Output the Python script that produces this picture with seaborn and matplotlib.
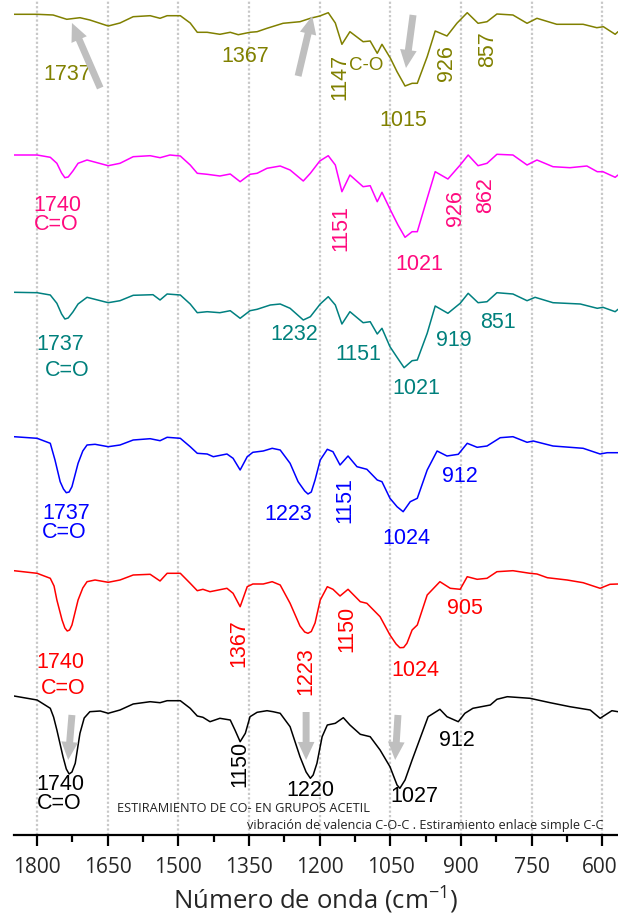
import matplotlib
matplotlib.use("Agg")
import matplotlib.pyplot as plt
import matplotlib.transforms as mtransforms
from matplotlib.ticker import MultipleLocator
import pandas as pd
import seaborn as sns

# ---------------- FTIR spectra (stacked, arbitrary transmittance units) ----------------
wn_olive = [1849, 1800, 1766, 1737, 1709, 1688, 1649, 1624, 1596, 1560, 1539, 1524, 1496,
            1475, 1460, 1439, 1412, 1390, 1373, 1348, 1333, 1312, 1278, 1242, 1220, 1200,
            1182, 1167, 1153, 1136, 1108, 1093, 1078, 1068, 1050, 1036, 1019, 1004, 993,
            972, 955, 930, 909, 887, 864, 845, 824, 790, 760, 739, 697, 641, 612, 598, 573, 567]
t_olive = [820.7, 820.7, 820.0, 815.7, 817.3, 815.0, 809.0, 812.0, 818.3, 819.3, 816.7, 819.3, 819.3,
           812.0, 802.7, 802.7, 800.7, 802.7, 800.3, 802.7, 803.3, 806.7, 811.7, 813.3, 816.7, 819.0,
           822.3, 812.0, 790.7, 803.3, 793.3, 794.0, 781.7, 790.7, 776.7, 763.3, 749.0, 751.7, 751.7,
           778.3, 804.0, 799.0, 811.7, 822.3, 811.7, 813.3, 821.0, 820.0, 811.7, 816.7, 810.7, 810.7,
           807.3, 808.3, 800.7, 803.3]

wn_magenta = [1849, 1800, 1772, 1758, 1748, 1741, 1734, 1724, 1713, 1694, 1649, 1624, 1596, 1560, 1539, 1518,
              1496, 1475, 1460, 1439, 1412, 1390, 1369, 1348, 1333, 1312, 1284, 1263, 1235, 1220,
              1200, 1182, 1167, 1153, 1136, 1108, 1093, 1078, 1068, 1050, 1034, 1019, 1004, 993,
              972, 955, 928, 902, 885, 864, 845, 824, 790, 760, 739, 705, 669, 633, 611, 599, 573, 567]
t_magenta = [680.0, 680.0, 677.7, 671.7, 662.0, 657.3, 658.0, 664.0, 671.7, 675.0, 669.3, 671.7, 678.3, 679.3, 677.3, 680.0,
             679.0, 670.0, 661.7, 660.7, 659.0, 661.0, 653.3, 660.7, 661.7, 666.7, 669.0, 665.0, 654.0, 661.7,
             674.0, 679.3, 670.0, 643.3, 660.0, 648.3, 649.3, 633.3, 642.7, 625.0, 610.0, 597.7, 603.3, 603.3,
             636.7, 663.3, 656.0, 670.0, 680.0, 669.3, 671.7, 680.7, 680.0, 670.0, 675.0, 668.3, 667.3, 669.0,
             663.3, 663.3, 657.7, 660.0]

wn_teal = [1849, 1800, 1772, 1758, 1748, 1741, 1734, 1724, 1713, 1694, 1649, 1624, 1596, 1554, 1539, 1524, 1496,
           1475, 1460, 1439, 1412, 1390, 1369, 1348, 1333, 1305, 1284, 1263, 1235, 1220, 1199, 1182,
           1167, 1153, 1136, 1108, 1093, 1078, 1068, 1051, 1036, 1021, 1004, 993, 972, 955, 928, 902,
           885, 864, 845, 824, 790, 760, 743, 705, 647, 611, 599, 573, 567]
t_teal = [542.7, 542.3, 540.0, 531.7, 521.0, 516.0, 517.0, 523.0, 531.0, 537.7, 532.3, 534.3, 539.7, 540.3, 535.0, 541.0, 540.0,
          531.0, 522.3, 523.3, 522.3, 524.3, 516.7, 524.3, 525.7, 530.0, 531.0, 526.7, 515.0, 518.3, 531.0, 538.3,
          530.0, 511.0, 523.3, 512.3, 513.3, 501.0, 506.7, 488.3, 477.7, 467.3, 474.3, 475.0, 501.7, 529.0, 521.7, 531.7,
          541.7, 532.3, 533.3, 542.3, 541.0, 534.3, 537.7, 532.3, 531.0, 526.7, 527.7, 523.3, 525.7]

wn_blue = [1849, 1800, 1772, 1762, 1751, 1744, 1738, 1732, 1726, 1713, 1703, 1694, 1677, 1649, 1624, 1596, 1560, 1539,
           1524, 1496, 1475, 1460, 1439, 1426, 1397, 1384, 1369, 1354, 1342, 1320, 1301, 1284, 1263,
           1246, 1232, 1225, 1218, 1210, 1199, 1184, 1172, 1157, 1140, 1121, 1100, 1078, 1068, 1051, 1036,
           1023, 1008, 993, 972, 951, 930, 906, 887, 866, 845, 817, 790, 760, 747, 705, 641, 605, 590, 567]
t_blue = [398.3, 396.7, 391.7, 375.0, 353.3, 346.0, 342.3, 343.0, 348.3, 371.7, 384.0, 390.0, 390.7, 388.3, 390.0, 395.0, 396.3, 394.3,
          397.7, 396.7, 388.3, 381.7, 381.0, 378.3, 381.0, 376.7, 365.0, 378.3, 382.7, 384.0, 386.7, 385.0, 371.7,
          353.3, 344.0, 341.0, 343.0, 355.0, 375.0, 385.7, 383.3, 370.0, 379.0, 368.3, 365.7, 355.0, 353.3, 336.7, 328.3,
          323.3, 333.3, 336.7, 365.0, 384.0, 379.0, 380.7, 391.7, 387.7, 389.0, 397.3, 398.3, 392.7, 394.0, 389.0,
          386.7, 381.0, 382.3, 382.3]

wn_red = [1849, 1800, 1772, 1764, 1758, 1747, 1741, 1736, 1731, 1726, 1713, 1703, 1694, 1677, 1649, 1624, 1596, 1560, 1539,
          1524, 1496, 1475, 1460, 1448, 1433, 1397, 1384, 1369, 1354, 1342, 1320, 1301, 1284, 1263,
          1242, 1232, 1225, 1218, 1210, 1199, 1184, 1172, 1157, 1140, 1114, 1100, 1072, 1051, 1038, 1030, 1022, 1015, 1004,
          993, 972, 945, 923, 902, 887, 866, 845, 824, 790, 754, 739, 717, 675, 641, 605, 584, 567]
t_red = [264.3, 261.7, 256.7, 249.0, 235.0, 215.0, 207.0, 204.0, 205.0, 210.0, 235.0, 247.0, 253.3, 255.0, 252.7, 255.0, 260.0, 260.7, 254.0,
         261.7, 261.7, 251.7, 244.3, 245.7, 243.3, 246.7, 241.7, 228.3, 248.3, 251.0, 251.0, 253.3, 250.0, 231.7,
         209.0, 203.0, 201.7, 203.5, 212.0, 235.0, 248.3, 245.7, 239.0, 245.7, 233.3, 231.7, 218.3, 200.0, 191.0, 187.3, 187.5, 191.7, 205.0,
         210.0, 240.0, 253.3, 246.7, 245.7, 258.3, 255.7, 256.7, 263.3, 264.3, 261.7, 261.0, 257.3, 255.0, 252.3,
         246.7, 250.7, 251.0]

wn_black = [1849, 1800, 1772, 1765, 1758, 1745, 1738, 1732, 1726, 1719, 1709, 1700, 1688, 1666, 1649, 1624, 1596, 1560, 1539,
            1524, 1496, 1475, 1460, 1448, 1433, 1412, 1390, 1380, 1369, 1358, 1348, 1333, 1312, 1299,
            1284, 1263, 1242, 1229, 1220, 1214, 1206, 1195, 1184, 1167, 1150, 1136, 1114, 1093, 1072, 1051,
            1036, 1030, 1019, 1004, 987, 970, 945, 930, 906, 892, 875, 838, 824, 802, 754, 711, 669,
            626, 605, 580, 567]
t_black = [139.0, 135.0, 126.7, 118.0, 105.0, 78.3, 66.0, 61.0, 63.0, 71.7, 101.7, 117.0, 123.3, 124.0, 121.7, 125.0, 131.0, 133.3, 132.3,
           134.3, 134.3, 126.7, 119.0, 117.7, 113.3, 116.7, 115.0, 105.0, 93.3, 101.7, 118.3, 122.7, 124.3, 123.3,
           121.7, 108.3, 78.3, 63.0, 56.7, 60.0, 71.7, 98.3, 110.0, 111.7, 117.3, 110.0, 100.7, 98.3, 85.0, 68.3,
           50.0, 46.7, 55.0, 75.0, 96.7, 118.3, 125.7, 118.3, 113.3, 121.7, 126.7, 130.0, 135.7, 138.3, 136.7,
           132.3, 128.3, 125.0, 116.7, 124.3, 123.3]

spectra = [
    (wn_olive, t_olive, "#808000"),
    (wn_magenta, t_magenta, "#FF00FF"),
    (wn_teal, t_teal, "#008080"),
    (wn_blue, t_blue, "#0000FF"),
    (wn_red, t_red, "#FF0000"),
    (wn_black, t_black, "#000000"),
]

# ---------------- band assignments: (wavenumber pos, level, text, rotation) ----------------
labels_olive = [(1736, 761, "1737", 0), (1359, 779, "1367", 0), (1157, 758, "1147", 90),
                (1102, 769, "C-O", 0), (1023, 714, "1015", 0), (930, 772, "926", 90), (843, 786, "857", 90)]
labels_magenta = [(1756, 620, "1740\nC=O", 0), (1155, 607, "1151", 90),
                  (989, 570, "1021", 0), (911, 627, "926", 90), (849, 640, "862", 90)]
labels_teal = [(1751, 490, "1737", 0), (1736, 465, "C=O", 0), (1255, 500, "1232", 0),
               (1119, 480, "1151", 0), (996, 446, "1021", 0), (915, 494, "919", 0), (822, 513, "851", 0)]
labels_blue = [(1739, 312, "1737\nC=O", 0), (1267, 320, "1223", 0),
               (1146, 335, "1151", 90), (1017, 296, "1024", 0), (902, 359, "912", 0)]
labels_red = [(1751, 172, "1740", 0), (1745, 147, "C=O", 0), (1371, 192, "1367", 90),
              (1229, 164, "1223", 90), (1142, 206, "1150", 90), (998, 165, "1024", 0), (892, 226, "905", 0)]
labels_black = [(1750, 41, "1740\nC=O", 0), (1369, 71, "1150", 90),
                (1219, 44, "1220", 0), (1000, 38, "1027", 0), (909, 94, "912", 0)]

label_sets = [
    (labels_olive, "#808000"),
    (labels_magenta, "#FF0A7E"),
    (labels_teal, "#00807C"),
    (labels_blue, "#0000FF"),
    (labels_red, "#FF0000"),
    (labels_black, "#000000"),
]

# highlighting arrows: (tail wn, tail level, tip wn, tip level)
arrows = [(1666, 747, 1726, 812), (1246, 759, 1216, 819), (1002, 820, 1017, 767),
          (1726, 120, 1734, 75), (1229, 123, 1229, 75), (1034, 120, 1040, 75)]

xticks = [1800, 1650, 1500, 1350, 1200, 1050, 900, 750, 600]

# ---------------- figure ----------------
sns.set_theme(style="white")
plt.rcParams["font.family"] = ["Liberation Sans", "DejaVu Sans"]
plt.rcParams["mathtext.fontset"] = "custom"
plt.rcParams["mathtext.rm"] = "Open Sans"
plt.rcParams["mathtext.it"] = "Open Sans"

fig = plt.figure(figsize=(6.18, 9.16), dpi=100)
ax = fig.add_axes([14 / 618, 81 / 916, 604 / 618, 835 / 916])

for wn, t, col in spectra:
    df = pd.DataFrame({"wn": wn, "t": t})
    sns.lineplot(data=df, x="wn", y="t", color=col, linewidth=1.1, ax=ax,
                 estimator=None, sort=False)

for labs, col in label_sets:
    for x, y, s, rot in labs:
        ax.text(x, y, s, color=col, fontsize=13.5 if s == "C-O" else 15.5,
                rotation=rot, ha="center", va="center", linespacing=0.9,
                multialignment="left")

for x0, y0, x1, y1 in arrows:
    ax.annotate("", xy=(x1, y1), xytext=(x0, y0),
                arrowprops=dict(facecolor="#BFBFBF", edgecolor="none",
                                width=5, headwidth=12, headlength=13, shrink=0))

ax.text(1630, 27, "ESTIRAMIENTO DE CO- EN GRUPOS ACETIL", fontsize=9.2,
        family="Open Sans", color="#222222", ha="left", va="center")
ax.text(1354, 10, "vibración de valencia C-O-C . Estiramiento enlace simple C-C", fontsize=9.2,
        family="Open Sans", color="#222222", ha="left", va="center", clip_on=True)

ax.set_xlim(1849, 567)
ax.set_ylim(0, 835)
ax.set_xticks(xticks)
ax.xaxis.set_minor_locator(MultipleLocator(75))
ax.set_yticks([])
ax.set_ylabel("")
ax.grid(axis="x", which="major", linestyle=(0, (1, 1)), color="#C8C8C8", linewidth=1.6)
for side in ["left", "top", "right"]:
    ax.spines[side].set_visible(False)
ax.spines["bottom"].set_linewidth(1.6)
ax.spines["bottom"].set_color("black")
ax.tick_params(axis="x", which="major", direction="out", length=8, width=1.6,
               bottom=True, color="black", pad=8, labelsize=15)
ax.tick_params(axis="x", which="minor", direction="out", length=5, width=1.6,
               bottom=True, color="black")
ticklabels = ax.get_xticklabels()
for lab in ticklabels:
    lab.set_fontfamily("Open Sans")
# keep the last tick label inside the figure edge
shift = mtransforms.ScaledTranslation(-3 / 100, 0, fig.dpi_scale_trans)
ticklabels[-1].set_transform(ticklabels[-1].get_transform() + shift)
ax.set_xlabel("Número de onda (cm$^{-1}$)", fontsize=18.5, family="Open Sans", labelpad=5)

fig.savefig("out.png", dpi=100)
